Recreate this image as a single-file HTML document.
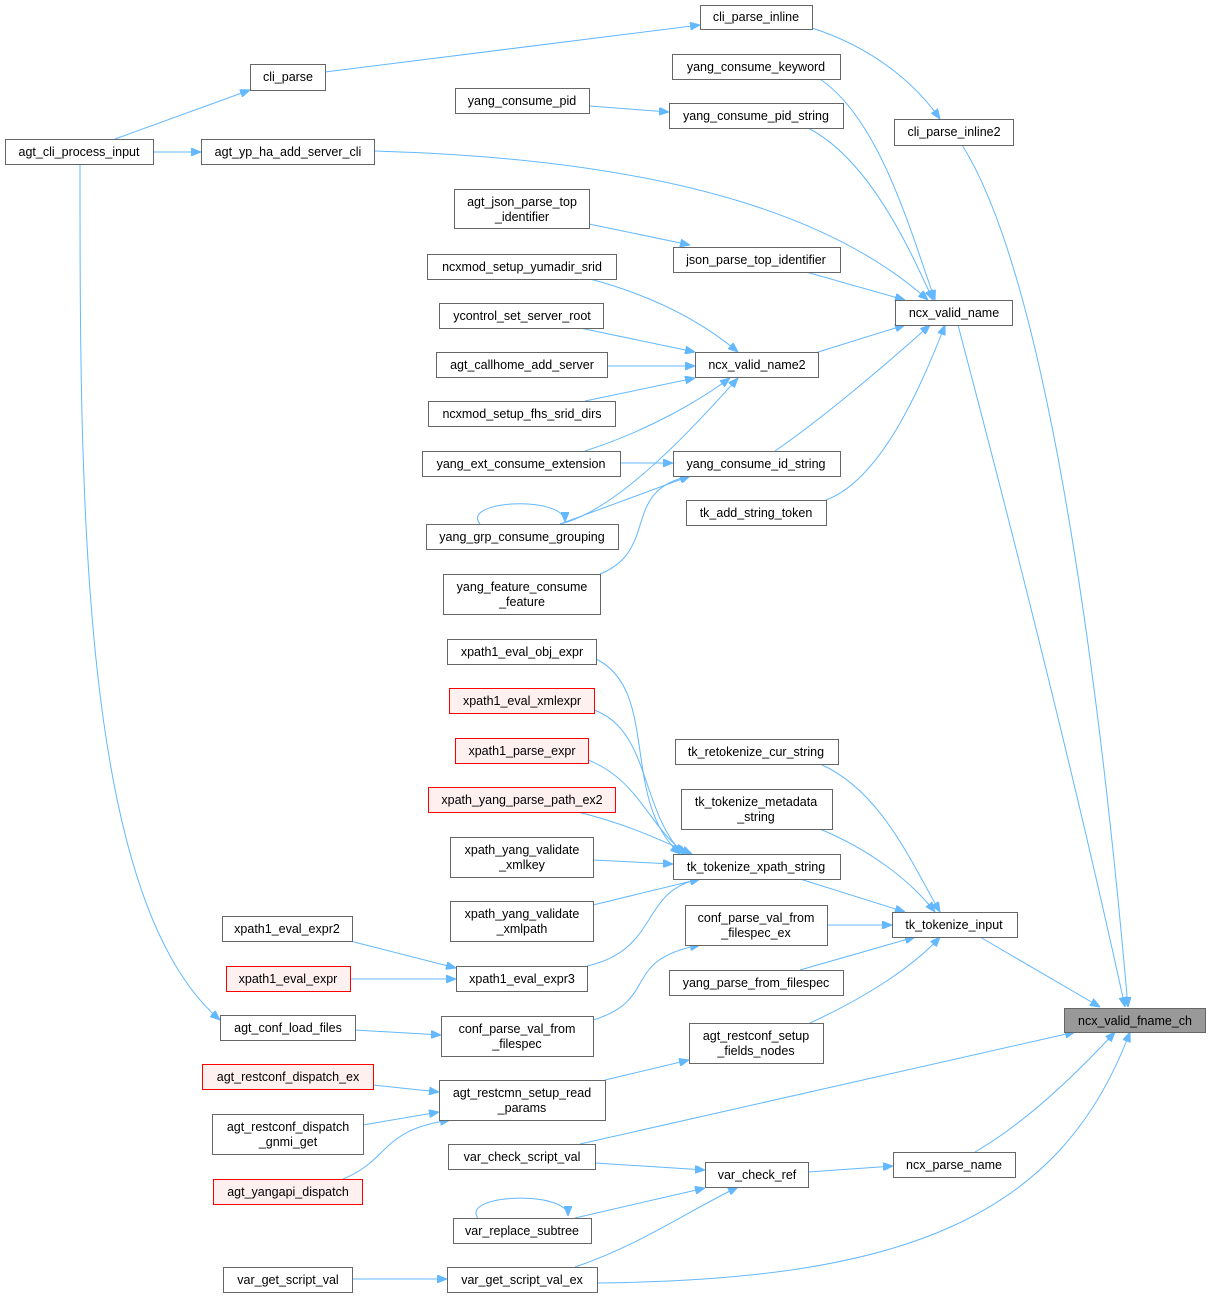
<!DOCTYPE html>
<html><head><meta charset="utf-8"><style>
html,body{margin:0;padding:0;background:#fff;}
svg text{font-family:"Liberation Sans",Arial,sans-serif;font-size:12.5px;fill:#000;text-anchor:middle;}
.n{fill:#fff;stroke:#666;stroke-width:1;}
.r{fill:#fff0f0;stroke:#f00;stroke-width:1;}
.g{fill:#999;stroke:#666;stroke-width:1;}
.e{fill:none;stroke:#63b8ff;stroke-width:1;marker-end:url(#a);}
</style></head><body>
<svg width="1211" height="1299" viewBox="0 0 1211 1299" xmlns="http://www.w3.org/2000/svg">
<defs><marker id="a" markerWidth="10" markerHeight="8" refX="10" refY="4" orient="auto" markerUnits="userSpaceOnUse"><path d="M0,0 L10,4 L0,8 Z" fill="#63b8ff" stroke="#63b8ff"/></marker></defs>
<g>
<path class="e" d="M325,72 L700,25"/>
<path class="e" d="M115,139 L250,90"/>
<path class="e" d="M153,152 L201,152"/>
<path class="e" d="M80,164 C80,500 80,900 220,1020"/>
<path class="e" d="M812,28 C880,50 920,90 940,119"/>
<path class="e" d="M962,145 C1060,300 1110,800 1128,1007"/>
<path class="e" d="M820,79 C880,120 910,230 935,300"/>
<path class="e" d="M589,106 L669,112"/>
<path class="e" d="M808,128 C870,160 910,250 933,300"/>
<path class="e" d="M374,151 C700,160 850,230 928,300"/>
<path class="e" d="M589,224 L690,245"/>
<path class="e" d="M806,272 L905,300"/>
<path class="e" d="M590,279 C650,295 700,320 738,352"/>
<path class="e" d="M580,328 L695,352"/>
<path class="e" d="M607,366 L695,366"/>
<path class="e" d="M585,401 L695,378"/>
<path class="e" d="M585,451 C650,430 700,400 730,378"/>
<path class="e" d="M620,463 L673,463"/>
<path class="e" d="M560,524 C620,510 700,420 738,378"/>
<path class="e" d="M560,524 L690,476"/>
<path class="e" d="M600,574 C660,550 620,490 690,476"/>
<path class="e" d="M480,524 C460,500 565,495 565,522"/>
<path class="e" d="M818,352 L905,325"/>
<path class="e" d="M775,451 C820,420 880,370 930,325"/>
<path class="e" d="M826,500 C880,480 920,390 945,325"/>
<path class="e" d="M958,325 C1020,560 1080,800 1125,1007"/>
<path class="e" d="M596,659 C660,690 620,800 680,854"/>
<path class="e" d="M594,710 C650,730 640,810 683,854"/>
<path class="e" d="M588,760 C640,780 650,830 687,854"/>
<path class="e" d="M578,812 C630,825 660,840 692,854"/>
<path class="e" d="M593,860 L673,864"/>
<path class="e" d="M593,905 L700,879"/>
<path class="e" d="M587,966 C660,950 640,890 700,879"/>
<path class="e" d="M820,764 C880,790 910,860 940,912"/>
<path class="e" d="M820,829 C870,850 910,880 935,912"/>
<path class="e" d="M800,879 L905,912"/>
<path class="e" d="M827,925 L892,925"/>
<path class="e" d="M800,970 L915,937"/>
<path class="e" d="M810,1023 C860,1000 910,970 940,937"/>
<path class="e" d="M980,937 L1100,1007"/>
<path class="e" d="M350,941 L456,968"/>
<path class="e" d="M350,979 L456,979"/>
<path class="e" d="M355,1030 L441,1035"/>
<path class="e" d="M593,1020 C660,1000 620,960 700,945"/>
<path class="e" d="M605,1080 L689,1060"/>
<path class="e" d="M373,1085 L439,1092"/>
<path class="e" d="M363,1125 L439,1112"/>
<path class="e" d="M343,1179 C390,1160 380,1130 450,1120"/>
<path class="e" d="M580,1144 L1075,1032"/>
<path class="e" d="M595,1163 L705,1170"/>
<path class="e" d="M575,1218 L705,1188"/>
<path class="e" d="M478,1218 C460,1194 568,1190 568,1216"/>
<path class="e" d="M575,1267 C640,1245 690,1210 738,1187"/>
<path class="e" d="M352,1279 L447,1279"/>
<path class="e" d="M808,1172 L893,1166"/>
<path class="e" d="M975,1152 C1030,1120 1080,1070 1115,1032"/>
<path class="e" d="M597,1283 C900,1280 1060,1220 1130,1032"/>
</g>
<g>
<rect class="n" x="700.5" y="5.5" width="112" height="24"/><text x="756" y="21">cli_parse_inline</text>
<rect class="n" x="250.5" y="64.5" width="75" height="26"/><text x="288" y="81">cli_parse</text>
<rect class="n" x="672.5" y="54.5" width="168" height="25"/><text x="756" y="71">yang_consume_keyword</text>
<rect class="n" x="455.5" y="88.5" width="134" height="25"/><text x="522" y="105">yang_consume_pid</text>
<rect class="n" x="669.5" y="103.5" width="174" height="25"/><text x="756" y="120">yang_consume_pid_string</text>
<rect class="n" x="894.5" y="119.5" width="119" height="26"/><text x="954" y="136">cli_parse_inline2</text>
<rect class="n" x="5.5" y="139.5" width="148" height="25"/><text x="79" y="156">agt_cli_process_input</text>
<rect class="n" x="201.5" y="139.5" width="173" height="25"/><text x="288" y="156">agt_yp_ha_add_server_cli</text>
<rect class="n" x="454.5" y="189.5" width="135" height="39"/><text x="522" y="206">agt_json_parse_top</text><text x="522" y="221">_identifier</text>
<rect class="n" x="673.5" y="247.5" width="167" height="25"/><text x="756" y="264">json_parse_top_identifier</text>
<rect class="n" x="427.5" y="254.5" width="189" height="25"/><text x="522" y="271">ncxmod_setup_yumadir_srid</text>
<rect class="n" x="895.5" y="300.5" width="117" height="25"/><text x="954" y="317">ncx_valid_name</text>
<rect class="n" x="439.5" y="303.5" width="164" height="25"/><text x="522" y="320">ycontrol_set_server_root</text>
<rect class="n" x="436.5" y="352.5" width="171" height="25"/><text x="522" y="369">agt_callhome_add_server</text>
<rect class="n" x="695.5" y="352.5" width="123" height="25"/><text x="757" y="369">ncx_valid_name2</text>
<rect class="n" x="428.5" y="401.5" width="187" height="25"/><text x="522" y="418">ncxmod_setup_fhs_srid_dirs</text>
<rect class="n" x="422.5" y="451.5" width="198" height="25"/><text x="521" y="468">yang_ext_consume_extension</text>
<rect class="n" x="673.5" y="451.5" width="167" height="25"/><text x="756" y="468">yang_consume_id_string</text>
<rect class="n" x="686.5" y="500.5" width="140" height="25"/><text x="756" y="517">tk_add_string_token</text>
<rect class="n" x="426.5" y="524.5" width="192" height="25"/><text x="522" y="541">yang_grp_consume_grouping</text>
<rect class="n" x="443.5" y="574.5" width="157" height="40"/><text x="522" y="591">yang_feature_consume</text><text x="522" y="606">_feature</text>
<rect class="n" x="447.5" y="639.5" width="149" height="25"/><text x="522" y="656">xpath1_eval_obj_expr</text>
<rect class="r" x="449.5" y="688.5" width="145" height="25"/><text x="522" y="705">xpath1_eval_xmlexpr</text>
<rect class="r" x="455.5" y="738.5" width="133" height="25"/><text x="522" y="755">xpath1_parse_expr</text>
<rect class="n" x="675.5" y="739.5" width="163" height="25"/><text x="756" y="756">tk_retokenize_cur_string</text>
<rect class="r" x="428.5" y="787.5" width="187" height="25"/><text x="522" y="804">xpath_yang_parse_path_ex2</text>
<rect class="n" x="681.5" y="789.5" width="151" height="40"/><text x="756" y="806">tk_tokenize_metadata</text><text x="756" y="821">_string</text>
<rect class="n" x="450.5" y="837.5" width="143" height="40"/><text x="522" y="854">xpath_yang_validate</text><text x="522" y="869">_xmlkey</text>
<rect class="n" x="673.5" y="854.5" width="167" height="25"/><text x="756" y="871">tk_tokenize_xpath_string</text>
<rect class="n" x="685.5" y="905.5" width="142" height="40"/><text x="756" y="922">conf_parse_val_from</text><text x="756" y="937">_filespec_ex</text>
<rect class="n" x="892.5" y="912.5" width="125" height="25"/><text x="954" y="929">tk_tokenize_input</text>
<rect class="n" x="450.5" y="901.5" width="143" height="40"/><text x="522" y="918">xpath_yang_validate</text><text x="522" y="933">_xmlpath</text>
<rect class="n" x="222.5" y="916.5" width="130" height="25"/><text x="287" y="933">xpath1_eval_expr2</text>
<rect class="n" x="669.5" y="970.5" width="174" height="25"/><text x="756" y="987">yang_parse_from_filespec</text>
<rect class="r" x="226.5" y="966.5" width="124" height="25"/><text x="288" y="983">xpath1_eval_expr</text>
<rect class="n" x="456.5" y="966.5" width="131" height="25"/><text x="522" y="983">xpath1_eval_expr3</text>
<rect class="g" x="1064.5" y="1008.5" width="141" height="24"/><text x="1135" y="1025">ncx_valid_fname_ch</text>
<rect class="n" x="220.5" y="1015.5" width="135" height="25"/><text x="288" y="1032">agt_conf_load_files</text>
<rect class="n" x="441.5" y="1016.5" width="152" height="40"/><text x="517" y="1033">conf_parse_val_from</text><text x="517" y="1048">_filespec</text>
<rect class="n" x="689.5" y="1023.5" width="134" height="40"/><text x="756" y="1040">agt_restconf_setup</text><text x="756" y="1055">_fields_nodes</text>
<rect class="r" x="202.5" y="1064.5" width="171" height="25"/><text x="288" y="1081">agt_restconf_dispatch_ex</text>
<rect class="n" x="439.5" y="1080.5" width="166" height="40"/><text x="522" y="1097">agt_restcmn_setup_read</text><text x="522" y="1112">_params</text>
<rect class="n" x="212.5" y="1114.5" width="151" height="40"/><text x="288" y="1131">agt_restconf_dispatch</text><text x="288" y="1146">_gnmi_get</text>
<rect class="n" x="448.5" y="1144.5" width="147" height="25"/><text x="522" y="1161">var_check_script_val</text>
<rect class="n" x="893.5" y="1152.5" width="122" height="25"/><text x="954" y="1169">ncx_parse_name</text>
<rect class="n" x="705.5" y="1162.5" width="103" height="25"/><text x="757" y="1179">var_check_ref</text>
<rect class="r" x="213.5" y="1179.5" width="149" height="25"/><text x="288" y="1196">agt_yangapi_dispatch</text>
<rect class="n" x="453.5" y="1218.5" width="138" height="25"/><text x="522" y="1235">var_replace_subtree</text>
<rect class="n" x="223.5" y="1267.5" width="129" height="25"/><text x="288" y="1284">var_get_script_val</text>
<rect class="n" x="447.5" y="1267.5" width="150" height="25"/><text x="522" y="1284">var_get_script_val_ex</text>
</g>
</svg>
</body></html>
